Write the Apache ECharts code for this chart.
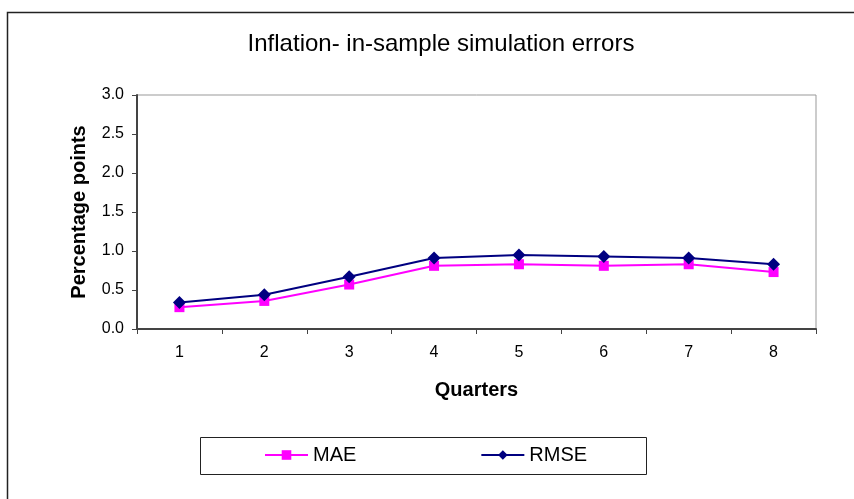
<!DOCTYPE html>
<html>
<head>
<meta charset="utf-8">
<script src="https://cdn.jsdelivr.net/npm/echarts@6/dist/echarts.min.js"></script>
<style>
  html, body { margin: 0; padding: 0; background: #fff; }
  #chart { width: 854px; height: 499px; }
</style>
</head>
<body>
<div id="chart"></div>
<script>
var quarters = ['1', '2', '3', '4', '5', '6', '7', '8'];
var maeData = [0.28, 0.36, 0.57, 0.81, 0.83, 0.81, 0.83, 0.73];
var rmseData = [0.34, 0.44, 0.67, 0.91, 0.95, 0.93, 0.91, 0.83];
var yTicks = { min: 0, max: 3, interval: 0.5 };

var font = 'Liberation Sans, Arial, sans-serif';

var option = {
    animation: false,
    backgroundColor: '#fff',
    title: {
        text: 'Inflation- in-sample simulation errors',
        left: 436,
        textAlign: 'center',
        top: 27,
        textStyle: { fontFamily: font, fontSize: 24, fontWeight: 'normal', color: '#000' }
    },
    grid: {
        left: 137, right: 38, top: 95, bottom: 170,
        show: true, borderColor: '#999', borderWidth: 1
    },
    legend: {
        left: 259,
        top: 440,
        itemGap: 124,
        itemWidth: 43,
        itemHeight: 12,
        textStyle: { fontFamily: font, fontSize: 20, color: '#000' },
        data: ['MAE', 'RMSE']
    },
    graphic: [
        {
            type: 'rect',
            shape: { x: 7.5, y: 12.5, width: 900, height: 600 },
            style: { fill: 'none', stroke: '#222', lineWidth: 1.5 },
            silent: true
        },
        {
            type: 'rect',
            shape: { x: 200.5, y: 437.5, width: 446, height: 37 },
            style: { fill: 'none', stroke: '#222', lineWidth: 1 },
            silent: true
        }
    ],
    xAxis: {
        type: 'category',
        data: quarters,
        boundaryGap: true,
        name: 'Quarters',
        nameLocation: 'middle',
        nameGap: 51,
        nameTextStyle: { fontFamily: font, fontSize: 20, fontWeight: 'bold', color: '#000' },
        axisLine: { lineStyle: { color: '#444', width: 2 } },
        axisTick: { show: true, inside: false, length: 5, alignWithLabel: false, lineStyle: { color: '#444' } },
        axisLabel: { fontFamily: font, fontSize: 16, color: '#000', margin: 16 },
        splitLine: { show: false }
    },
    yAxis: {
        type: 'value',
        min: yTicks.min,
        max: yTicks.max,
        interval: yTicks.interval,
        name: 'Percentage points',
        nameLocation: 'middle',
        nameGap: 48,
        nameTextStyle: { fontFamily: font, fontSize: 20, fontWeight: 'bold', color: '#000' },
        axisLine: { show: true, lineStyle: { color: '#444', width: 2 } },
        axisTick: { show: true, inside: false, length: 5, lineStyle: { color: '#444' } },
        axisLabel: {
            fontFamily: font, fontSize: 16, color: '#000', margin: 13,
            formatter: function (v) { return v.toFixed(1); }
        },
        splitLine: { show: false }
    },
    series: [
        {
            name: 'MAE',
            type: 'line',
            data: maeData,
            symbol: 'rect',
            symbolSize: 10,
            color: '#ff00ff',
            lineStyle: { color: '#ff00ff', width: 2 },
            itemStyle: { color: '#ff00ff' }
        },
        {
            name: 'RMSE',
            type: 'line',
            data: rmseData,
            symbol: 'diamond',
            symbolSize: 13,
            color: '#000080',
            lineStyle: { color: '#000080', width: 2 },
            itemStyle: { color: '#000080' }
        }
    ]
};

var chart = echarts.init(document.getElementById('chart'));
chart.setOption(option);
</script>
</body>
</html>
